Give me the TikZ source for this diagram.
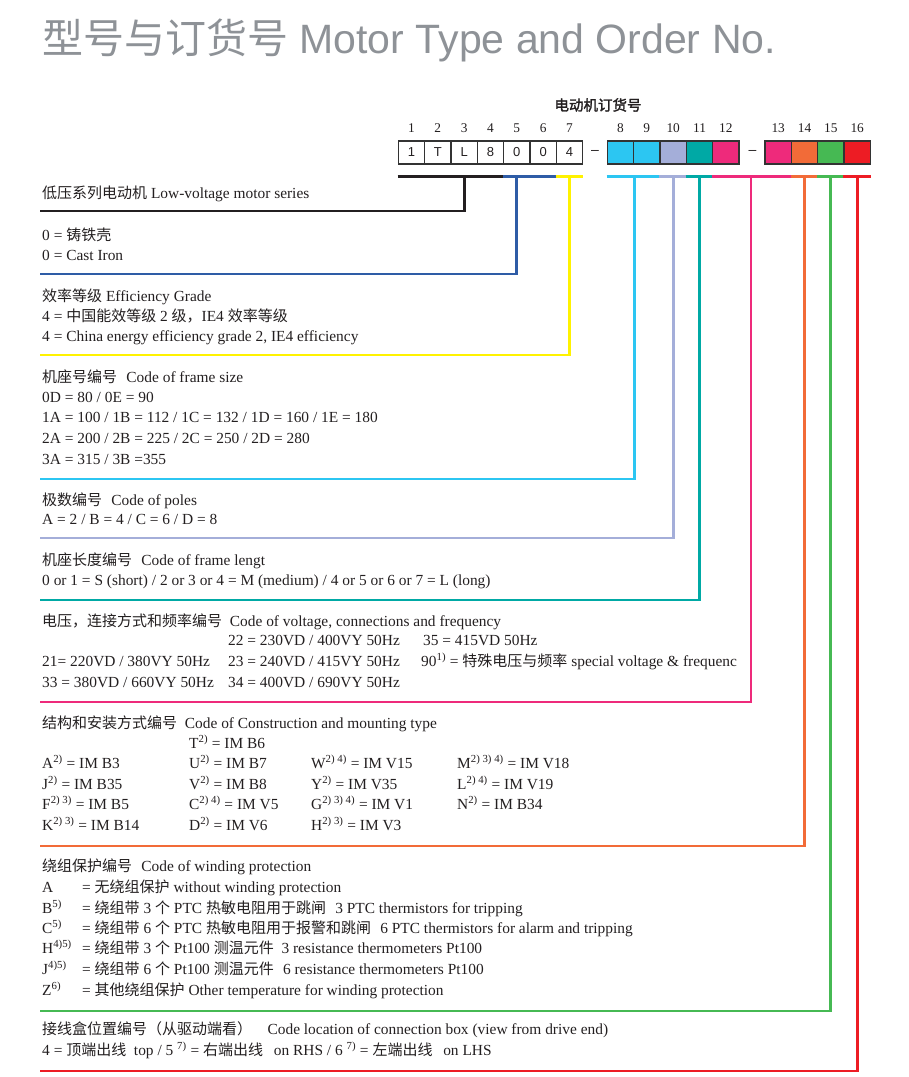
\documentclass[tikz,border=0pt]{standalone}
\usepackage{fontspec}
\setmainfont{Liberation Serif}[Scale=1.027]
\newfontfamily\cjk{Noto Sans CJK SC}
\newfontfamily\cjkbold[FakeBold=2]{Noto Sans CJK SC}
\newfontfamily\headsans{Liberation Sans}
\newcommand{\zh}[1]{{\cjk #1}}
\newcommand{\supn}[1]{\textsuperscript{#1}}
\definecolor{ink}{HTML}{231F20}
\definecolor{titlegrey}{HTML}{8E9297}
\definecolor{serblue}{HTML}{2E5CA6}
\definecolor{effyellow}{HTML}{FFF200}
\definecolor{framecyan}{HTML}{2CC6F2}
\definecolor{polelav}{HTML}{A4AED9}
\definecolor{lenteal}{HTML}{00A9A5}
\definecolor{voltpink}{HTML}{EE2A7B}
\definecolor{mountorange}{HTML}{F26B38}
\definecolor{windgreen}{HTML}{46B953}
\definecolor{boxred}{HTML}{ED1C24}
\tikzset{
  digitbox/.style={draw=black!80, line width=1.2pt, minimum width=26.33pt, minimum height=23pt, inner sep=0pt, font=\headsans\fontsize{13}{13}\selectfont, text=ink},
  posnum/.style={inner sep=0pt, font=\fontsize{13}{13}\selectfont, text=ink},
  txt/.style={anchor=base west, inner sep=0pt, font=\fontsize{15}{18}\selectfont, text=ink},
  lead/.style={line width=2.7pt}
}
\begin{document}
\begin{tikzpicture}[x=1pt,y=-1pt]
\useasboundingbox (0,0) rectangle (909,1077);
\node[anchor=base west, inner sep=0pt, text=titlegrey, font=\headsans\fontsize{41}{44}\selectfont] (title) at (42,53) {\zh{型号与订货号} Motor Type and Order No.};
\node[inner sep=0pt, text=ink, font=\cjkbold\fontsize{14.5}{14.5}\selectfont] (ordhead) at (598,105) {电动机订货号};
% order number cells
\node[digitbox] (b1) at (411.5,152.5) {1};
\node[digitbox] (b2) at (437.8,152.5) {T};
\node[digitbox] (b3) at (464.2,152.5) {L};
\node[digitbox] (b4) at (490.5,152.5) {8};
\node[digitbox] (b5) at (516.8,152.5) {0};
\node[digitbox] (b6) at (543.2,152.5) {0};
\node[digitbox] (b7) at (569.5,152.5) {4};
\node[inner sep=0pt, font=\headsans\fontsize{14}{14}\selectfont, text=ink] (dash1) at (595,152) {–};
\node[digitbox, fill=framecyan] (b8) at (620.5,152.5) {};
\node[digitbox, fill=framecyan] (b9) at (646.8,152.5) {};
\node[digitbox, fill=polelav] (b10) at (673.2,152.5) {};
\node[digitbox, fill=lenteal] (b11) at (699.5,152.5) {};
\node[digitbox, fill=voltpink] (b12) at (725.8,152.5) {};
\node[inner sep=0pt, font=\headsans\fontsize{14}{14}\selectfont, text=ink] (dash2) at (752.5,152) {–};
\node[digitbox, fill=voltpink] (b13) at (778.2,152.5) {};
\node[digitbox, fill=mountorange] (b14) at (804.5,152.5) {};
\node[digitbox, fill=windgreen] (b15) at (830.8,152.5) {};
\node[digitbox, fill=boxred] (b16) at (857.2,152.5) {};
% positions
\node[posnum] (n1) at (411.5,128) {1};
\node[posnum] (n2) at (437.8,128) {2};
\node[posnum] (n3) at (464.2,128) {3};
\node[posnum] (n4) at (490.5,128) {4};
\node[posnum] (n5) at (516.8,128) {5};
\node[posnum] (n6) at (543.2,128) {6};
\node[posnum] (n7) at (569.5,128) {7};
\node[posnum] (n8) at (620.5,128) {8};
\node[posnum] (n9) at (646.8,128) {9};
\node[posnum] (n10) at (673.2,128) {10};
\node[posnum] (n11) at (699.5,128) {11};
\node[posnum] (n12) at (725.8,128) {12};
\node[posnum] (n13) at (778.2,128) {13};
\node[posnum] (n14) at (804.5,128) {14};
\node[posnum] (n15) at (830.8,128) {15};
\node[posnum] (n16) at (857.2,128) {16};
% section texts
\node[txt] (series) at (42,198) {\zh{低压系列电动机} Low-voltage motor series};
\node[txt] (castzh) at (42,240) {0 = \zh{铸铁壳}};
\node[txt] (casten) at (42,260) {0 = Cast Iron};
\node[txt] (effhead) at (42,301) {\zh{效率等级} Efficiency Grade};
\node[txt] (effzh) at (42,321) {4 = \zh{中国能效等级} 2 \zh{级，}IE4 \zh{效率等级}};
\node[txt] (effen) at (42,341) {4 = China energy efficiency grade 2, IE4 efficiency};
\node[txt] (framehead) at (42,382) {\zh{机座号编号}\hspace{0.6em}Code of frame size};
\node[txt] (framea) at (42,402) {0D = 80 / 0E = 90};
\node[txt] (frameb) at (42,422) {1A = 100 / 1B = 112 / 1C = 132 / 1D = 160 / 1E = 180};
\node[txt] (framec) at (42,443) {2A = 200 / 2B = 225 / 2C = 250 / 2D = 280};
\node[txt] (framed) at (42,464) {3A = 315 / 3B =355};
\node[txt] (polehead) at (42,505) {\zh{极数编号}\hspace{0.6em}Code of poles};
\node[txt] (polea) at (42,524) {A = 2 / B = 4 / C = 6 / D = 8};
\node[txt] (lenhead) at (42,565) {\zh{机座长度编号}\hspace{0.6em}Code of frame lengt};
\node[txt] (lena) at (42,585) {0 or 1 = S (short) / 2 or 3 or 4 = M (medium) / 4 or 5 or 6 or 7 = L (long)};
\node[txt] (volthead) at (42,626) {\zh{电压，连接方式和频率编号}\hspace{0.5em}Code of voltage, connections and frequency};
\node[txt] (volt22) at (228,645) {22 = 230VD / 400VY 50Hz};
\node[txt] (volt35) at (423,645) {35 = 415VD 50Hz};
\node[txt] (volt21) at (42,666) {21= 220VD / 380VY 50Hz};
\node[txt] (volt23) at (228,666) {23 = 240VD / 415VY 50Hz};
\node[txt] (volt90) at (421,666) {90\supn{1)} = \zh{特殊电压与频率} special voltage \& frequenc};
\node[txt] (volt33) at (42,687) {33 = 380VD / 660VY 50Hz};
\node[txt] (volt34) at (228,687) {34 = 400VD / 690VY 50Hz};
\node[txt] (mounthead) at (42,728) {\zh{结构和安装方式编号}\hspace{0.5em}Code of Construction and mounting type};
\node[txt] (mountT) at (189,748) {T\supn{2)} = IM B6};
\node[txt] (mountA) at (42,768) {A\supn{2)} = IM B3};
\node[txt] (mountU) at (189,768) {U\supn{2)} = IM B7};
\node[txt] (mountW) at (311,768) {W\supn{2) 4)} = IM V15};
\node[txt] (mountM) at (457,768) {M\supn{2) 3) 4)} = IM V18};
\node[txt] (mountJ) at (42,789) {J\supn{2)} = IM B35};
\node[txt] (mountV) at (189,789) {V\supn{2)} = IM B8};
\node[txt] (mountY) at (311,789) {Y\supn{2)} = IM V35};
\node[txt] (mountL) at (457,789) {L\supn{2) 4)} = IM V19};
\node[txt] (mountF) at (42,809) {F\supn{2) 3)} = IM B5};
\node[txt] (mountC) at (189,809) {C\supn{2) 4)} = IM V5};
\node[txt] (mountG) at (311,809) {G\supn{2) 3) 4)} = IM V1};
\node[txt] (mountN) at (457,809) {N\supn{2)} = IM B34};
\node[txt] (mountK) at (42,830) {K\supn{2) 3)} = IM B14};
\node[txt] (mountD) at (189,830) {D\supn{2)} = IM V6};
\node[txt] (mountH) at (311,830) {H\supn{2) 3)} = IM V3};
\node[txt] (windhead) at (42,871) {\zh{绕组保护编号}\hspace{0.6em}Code of winding protection};
\node[txt] (windA) at (42,892) {A};
\node[txt] (windAt) at (82,892) {= \zh{无绕组保护} without winding protection};
\node[txt] (windB) at (42,913) {B\supn{5)}};
\node[txt] (windBt) at (82,913) {= \zh{绕组带} 3 \zh{个} PTC \zh{热敏电阻用于跳闸}\hspace{0.6em}3 PTC thermistors for tripping};
\node[txt] (windC) at (42,933) {C\supn{5)}};
\node[txt] (windCt) at (82,933) {= \zh{绕组带} 6 \zh{个} PTC \zh{热敏电阻用于报警和跳闸}\hspace{0.6em}6 PTC thermistors for alarm and tripping};
\node[txt] (windH) at (42,953) {H\supn{4)5)}};
\node[txt] (windHt) at (82,953) {= \zh{绕组带} 3 \zh{个} Pt100 \zh{测温元件}\hspace{0.5em}3 resistance thermometers Pt100};
\node[txt] (windJ) at (42,974) {J\supn{4)5)}};
\node[txt] (windJt) at (82,974) {= \zh{绕组带} 6 \zh{个} Pt100 \zh{测温元件}\hspace{0.6em}6 resistance thermometers Pt100};
\node[txt] (windZ) at (42,995) {Z\supn{6)}};
\node[txt] (windZt) at (82,995) {= \zh{其他绕组保护} Other temperature for winding protection};
\node[txt] (boxhead) at (42,1034) {\zh{接线盒位置编号（从驱动端看）}\hspace{1em}Code location of connection box (view from drive end)};
\node[txt] (boxa) at (42,1055) {4 = \zh{顶端出线}\hspace{0.5em}top / 5 \supn{7)} = \zh{右端出线}\hspace{0.7em}on RHS / 6 \supn{7)} = \zh{左端出线}\hspace{0.7em}on LHS};
% line ends
\coordinate (end1) at (40,211);
\coordinate (end2) at (40,274);
\coordinate (end3) at (40,355);
\coordinate (end4) at (40,479);
\coordinate (end5) at (40,538);
\coordinate (end6) at (40,600);
\coordinate (end7) at (40,702);
\coordinate (end8) at (40,846);
\coordinate (end9) at (40,1011);
\coordinate (end10) at (40,1071);
\coordinate (pinktop) at (751,176);
% brackets
\draw[lead, ink] ([yshift=-12pt]b1.south west) -- ([yshift=-12pt]b4.south east);
\draw[lead, ink] ([yshift=-12pt]b3.south) |- (end1);
\draw[lead, serblue] ([yshift=-12pt]b5.south west) -- ([yshift=-12pt]b6.south east);
\draw[lead, serblue] ([yshift=-12pt]b5.south) |- (end2);
\draw[lead, effyellow] ([yshift=-12pt]b7.south west) -- ([yshift=-12pt]b7.south east);
\draw[lead, effyellow] ([yshift=-12pt]b7.south) |- (end3);
\draw[lead, framecyan] ([yshift=-12pt]b8.south west) -- ([yshift=-12pt]b9.south east);
\draw[lead, framecyan] ([yshift=-12pt]b8.south east) |- (end4);
\draw[lead, polelav] ([yshift=-12pt]b10.south west) -- ([yshift=-12pt]b10.south east);
\draw[lead, polelav] ([yshift=-12pt]b10.south) |- (end5);
\draw[lead, lenteal] ([yshift=-12pt]b11.south west) -- ([yshift=-12pt]b11.south east);
\draw[lead, lenteal] ([yshift=-12pt]b11.south) |- (end6);
\draw[lead, voltpink] ([yshift=-12pt]b12.south west) -- ([yshift=-12pt]b13.south east);
\draw[lead, voltpink] (pinktop) |- (end7);
\draw[lead, mountorange] ([yshift=-12pt]b14.south west) -- ([yshift=-12pt]b14.south east);
\draw[lead, mountorange] ([yshift=-12pt]b14.south) |- (end8);
\draw[lead, windgreen] ([yshift=-12pt]b15.south west) -- ([yshift=-12pt]b15.south east);
\draw[lead, windgreen] ([yshift=-12pt]b15.south) |- (end9);
\draw[lead, boxred] ([yshift=-12pt]b16.south west) -- ([yshift=-12pt]b16.south east);
\draw[lead, boxred] ([yshift=-12pt]b16.south) |- (end10);
\end{tikzpicture}
\end{document}
